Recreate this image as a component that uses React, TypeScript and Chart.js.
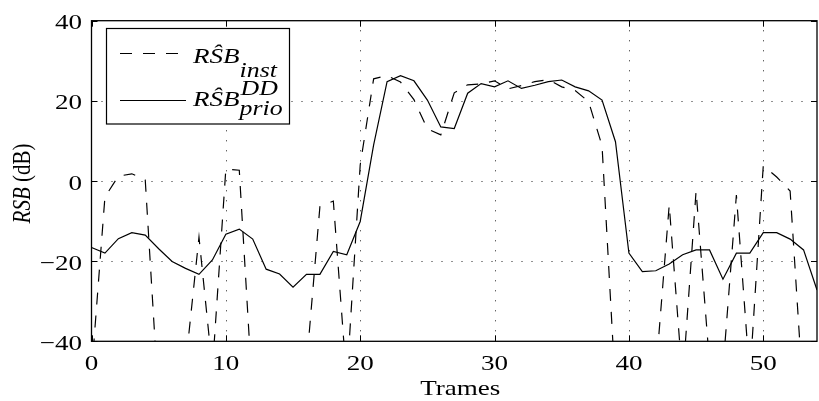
import React, { useEffect, useRef } from "react";
import { Chart, registerables } from "chart.js";
Chart.register(...registerables);

const frames = [0,1,2,3,4,5,6,7,8,9,10,11,12,13,14,15,16,17,18,19,20,21,22,23,24,25,26,27,28,29,30,31,32,33,34,35,36,37,38,39,40,41,42,43,44,45,46,47,48,49,50,51,52,53,54];
const rsbInst = [-48,-4,1.2,1.8,0.3,-55,-58,-46,-14,-47,3,2.7,-54,-55,-60,-52,-46,-6.4,-5,-50,4,25.5,26.3,24.7,20.3,13,11.5,22,24,24.2,25,23,23.8,24.8,25.3,23.5,22.6,19.8,8.8,-52,-60,-55,-48,-6,-50,-2.5,-45.5,-47,-3.5,-49,3.8,1,-2.5,-55,-60];
const rsbPrio = [-16.6,-18,-14.4,-12.9,-13.5,-16.9,-20.1,-21.8,-23.3,-19.7,-13.3,-12,-14.5,-22,-23.2,-26.5,-23.3,-23.3,-17.6,-18.4,-10.1,9.0,24.8,26.3,25,20.2,13.5,13.1,21.9,24.3,23.5,25.0,23.1,23.9,24.8,25.2,23.5,22.5,20.2,9.8,-18,-22.6,-22.4,-20.7,-18.4,-17.2,-17.2,-24.5,-18,-18,-12.9,-12.9,-14.5,-17.2,-27.2];
const xTicks = [0,10,20,30,40,50];
const yTicks = [-40,-20,0,20,40];
const xTickLabels = ["0","10","20","30","40","50"];
const yTickLabels = ["\u221240","\u221220","0","20","40"];
const xTitle = "Trames";
const yTitleItalic = "RSB";
const yTitleRest = " (dB)";

const FAM = "\"Liberation Serif\"";
const SX = 1.23;

function drawStretched(ctx: CanvasRenderingContext2D, text: string, x: number, y: number, font: string, sx: number, align: "left" | "right" | "center") {
  ctx.save();
  ctx.font = font;
  const w = ctx.measureText(text).width * sx;
  let left = x;
  if (align === "right") left = x - w;
  else if (align === "center") left = x - w / 2;
  ctx.translate(left, y);
  ctx.scale(sx, 1);
  ctx.textAlign = "left";
  ctx.fillText(text, 0, 0);
  ctx.restore();
  return w;
}

const framePlugin = {
  id: "matlabFrame",
  beforeDatasetsDraw(chart: any) {
    const ctx = chart.ctx as CanvasRenderingContext2D;
    const { left, right, top, bottom } = chart.chartArea;
    const xs = chart.scales.x;
    const ys = chart.scales.y;
    ctx.save();
    ctx.strokeStyle = "#222";
    ctx.lineWidth = 1;
    ctx.setLineDash([1, 9]);
    xTicks.forEach((v) => {
      const px = Math.round(xs.getPixelForValue(v)) + 0.5;
      if (v === 0) return;
      ctx.beginPath();
      ctx.moveTo(px, bottom);
      ctx.lineTo(px, top);
      ctx.stroke();
    });
    yTicks.forEach((v) => {
      const py = Math.round(ys.getPixelForValue(v)) + 0.5;
      if (v === -40 || v === 40) return;
      ctx.beginPath();
      ctx.moveTo(left, py);
      ctx.lineTo(right, py);
      ctx.stroke();
    });
    ctx.restore();
  },
  afterDraw(chart: any) {
    const ctx = chart.ctx as CanvasRenderingContext2D;
    const { left, right, top, bottom } = chart.chartArea;
    const xs = chart.scales.x;
    const ys = chart.scales.y;
    ctx.save();
    ctx.strokeStyle = "#000";
    ctx.lineWidth = 1.3;
    ctx.setLineDash([]);
    ctx.strokeRect(left, top, right - left, bottom - top);
    const tl = 6;
    ctx.lineWidth = 1;
    xTicks.forEach((v) => {
      const px = Math.round(xs.getPixelForValue(v)) + 0.5;
      ctx.beginPath();
      ctx.moveTo(px, bottom);
      ctx.lineTo(px, bottom - tl);
      ctx.moveTo(px, top);
      ctx.lineTo(px, top + tl);
      ctx.stroke();
    });
    yTicks.forEach((v) => {
      const py = Math.round(ys.getPixelForValue(v)) + 0.5;
      ctx.beginPath();
      ctx.moveTo(left, py);
      ctx.lineTo(left + tl, py);
      ctx.moveTo(right, py);
      ctx.lineTo(right - tl, py);
      ctx.stroke();
    });

    // tick labels
    ctx.fillStyle = "#000";
    ctx.textBaseline = "alphabetic";
    const tickFont = `22px ${FAM}`;
    xTicks.forEach((v, i) => {
      const px = xs.getPixelForValue(v);
      drawStretched(ctx, xTickLabels[i], px, 370, tickFont, SX, "center");
    });
    yTicks.forEach((v, i) => {
      const py = ys.getPixelForValue(v);
      drawStretched(ctx, yTickLabels[i], 82, py + 8.5, tickFont, SX, "right");
    });

    // x title
    drawStretched(ctx, xTitle, (left + right) / 2 + 6, 395, `22px ${FAM}`, SX, "center");

    // y title rotated
    ctx.save();
    ctx.translate(30, 183.5);
    ctx.rotate(-Math.PI / 2);
    ctx.scale(1, SX);
    ctx.font = `italic 21px ${FAM}`;
    const w1 = ctx.measureText(yTitleItalic).width;
    ctx.font = `21px ${FAM}`;
    const w2 = ctx.measureText(yTitleRest).width;
    const total = w1 + w2;
    ctx.font = `italic 21px ${FAM}`;
    ctx.fillText(yTitleItalic, -total / 2, 0);
    ctx.font = `21px ${FAM}`;
    ctx.fillText(yTitleRest, -total / 2 + w1, 0);
    ctx.restore();

    // legend
    const bx = 106.5, by = 28.5, bw = 183, bh = 95.5;
    ctx.fillStyle = "#fff";
    ctx.fillRect(bx, by, bw, bh);
    ctx.strokeStyle = "#000";
    ctx.lineWidth = 1.2;
    ctx.strokeRect(bx, by, bw, bh);
    ctx.lineWidth = 1.2;
    ctx.setLineDash([12, 11]);
    ctx.beginPath();
    ctx.moveTo(120, 53.5);
    ctx.lineTo(186, 53.5);
    ctx.stroke();
    ctx.setLineDash([]);
    ctx.beginPath();
    ctx.moveTo(120, 100.5);
    ctx.lineTo(186, 100.5);
    ctx.stroke();

    ctx.fillStyle = "#000";
    const mainFont = `italic 22px ${FAM}`;
    const subFont = `italic 21px ${FAM}`;
    const w = drawStretched(ctx, "R\u015CB", 193, 63, mainFont, SX, "left");
    drawStretched(ctx, "inst", 193 + w, 77, subFont, SX, "left");
    const w3 = drawStretched(ctx, "R\u015CB", 193, 106, mainFont, SX, "left");
    drawStretched(ctx, "DD", 193 + w3 + 1, 95, subFont, SX, "left");
    drawStretched(ctx, "prio", 193 + w3, 115, subFont, SX, "left");
    ctx.restore();
  },
};

export default function App() {
  const ref = useRef<HTMLCanvasElement | null>(null);
  useEffect(() => {
    if (!ref.current) return;
    const chart = new Chart(ref.current, {
      type: "line",
      data: {
        datasets: [
          {
            label: "RSB inst",
            data: frames.map((f, i) => ({ x: f, y: rsbInst[i] })),
            borderColor: "#000",
            borderWidth: 1.2,
            borderDash: [12, 11],
            pointRadius: 0,
            tension: 0,
            fill: false,
          },
          {
            label: "RSB prio DD",
            data: frames.map((f, i) => ({ x: f, y: rsbPrio[i] })),
            borderColor: "#000",
            borderWidth: 1.2,
            pointRadius: 0,
            tension: 0,
            fill: false,
          },
        ],
      },
      options: {
        responsive: false,
        animation: false,
        devicePixelRatio: 1,
        layout: { padding: { left: 0, top: 20.7, right: 2, bottom: 0 } },
        plugins: { legend: { display: false }, tooltip: { enabled: false } },
        scales: {
          x: {
            type: "linear",
            min: 0,
            max: 54,
            ticks: { display: false, stepSize: 10 },
            grid: { display: false },
            border: { display: false },
            afterFit: (s: any) => { s.height = 401 - 341.3; },
          },
          y: {
            type: "linear",
            min: -40,
            max: 40,
            ticks: { display: false, stepSize: 20 },
            grid: { display: false },
            border: { display: false },
            afterFit: (s: any) => { s.width = 91.5; },
          },
        },
      },
      plugins: [framePlugin],
    } as any);
    return () => { chart.destroy(); };
  }, []);
  return (
    <div style={{ position: "fixed", left: 0, top: 0, width: 819, height: 401, background: "#fff" }}>
      <canvas ref={ref} width={819} height={401} style={{ width: 819, height: 401 }} />
    </div>
  );
}
